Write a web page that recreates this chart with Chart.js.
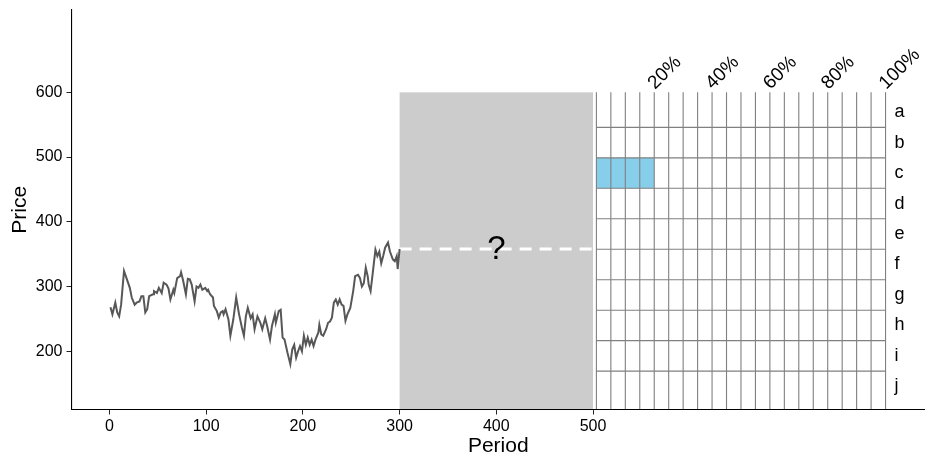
<!DOCTYPE html>
<html>
<head>
<meta charset="utf-8">
<script src="https://cdn.jsdelivr.net/npm/chart.js@4.4.1/dist/chart.umd.min.js"></script>
<style>
  html, body { margin: 0; padding: 0; background: #fff; }
  #c { display: block; }
</style>
</head>
<body>
<canvas id="c" width="925" height="463" style="width:925px;height:463px"></canvas>
<script>
// ---------- data ----------
const periods = [1,3,6,8,10,12,15,18,21,23,26,28,31,33,35,37,39,41,45,46,49,51,54,56,59,61,63,66,67,70,73,74,76,79,81,83,85,88,90,92,94,96,99,101,102,104,107,108,111,113,115,117,118,120,123,125,128,131,134,137,139,141,143,146,148,150,153,156,158,161,163,166,168,171,172,175,177,179,181,184,187,189,191,193,195,197,199,201,203,205,207,209,211,213,216,217,219,221,224,226,228,230,232,234,236,238,240,242,244,246,249,252,254,257,259,261,263,265,267,268,270,272,273,275,277,279,281,283,285,288,290,293,295,297,298,300];
const prices  = [268,257,275,260,254,272,324,311,298,283,272,275,277,285,285,260,265,285,288,293,290,298,290,306,303,297,280,295,290,313,316,322,310,288,312,311,303,277,300,298,303,295,298,293,295,288,283,270,262,252,260,262,257,265,249,224,249,283,257,236,224,254,267,251,257,234,254,244,234,251,239,218,239,257,244,262,264,221,218,198,180,203,210,190,200,208,200,224,210,221,210,218,208,218,229,241,226,224,234,244,246,252,275,280,272,280,272,270,247,257,267,293,316,318,313,300,305,329,316,303,293,318,331,357,347,354,336,347,360,368,354,342,339,347,327,358];
const xTicks = [0,100,200,300,400,500];
const yTicks = [200,300,400,500,600];
const forecastStart = 300;
const forecastEnd = 500;
const forecastTop = 600;
const lastPrice = 358;
const rowLabels = ['a','b','c','d','e','f','g','h','i','j'];
const pctLabels = ['20%','40%','60%','80%','100%'];
const pctValues = [20,40,60,80,100];
const filledRow = 'c';
const filledPercent = 20;

// ---------- layout constants (data units) ----------
const GRID_LEFT = 503.5, GRID_RIGHT = 802.5, N_COLS = 20;
const ROW_TOP = 592.98, ROW_H = 47.08;
const FONT = "'Liberation Sans', Arial, Helvetica, sans-serif";

const overlay = {
  id: 'overlay',
  beforeDatasetsDraw(chart) {
    const {ctx, chartArea, scales: {x, y}} = chart;
    ctx.save();
    // grey forecast box
    const bx0 = x.getPixelForValue(forecastStart), bx1 = x.getPixelForValue(forecastEnd);
    const by0 = y.getPixelForValue(forecastTop);
    ctx.fillStyle = '#cccccc';
    ctx.fillRect(bx0, by0, bx1 - bx0, chartArea.bottom - by0);

    const colW = (GRID_RIGHT - GRID_LEFT) / N_COLS;
    // filled cells
    const ri = rowLabels.indexOf(filledRow);
    const nFill = Math.round(filledPercent / 100 * N_COLS);
    const fx0 = x.getPixelForValue(GRID_LEFT), fx1 = x.getPixelForValue(GRID_LEFT + nFill * colW);
    const fy0 = y.getPixelForValue(ROW_TOP - ri * ROW_H), fy1 = y.getPixelForValue(ROW_TOP - (ri + 1) * ROW_H);
    ctx.fillStyle = '#87ceeb';
    ctx.fillRect(fx0, fy0, fx1 - fx0, fy1 - fy0);

    // grid lines
    ctx.strokeStyle = '#808080';
    ctx.lineWidth = 1.1;
    ctx.beginPath();
    for (let k = 0; k <= N_COLS; k++) {
      const px = x.getPixelForValue(GRID_LEFT + k * colW);
      ctx.moveTo(px, y.getPixelForValue(forecastTop));
      ctx.lineTo(px, chartArea.bottom);
    }
    const gl = x.getPixelForValue(GRID_LEFT), gr = x.getPixelForValue(GRID_RIGHT);
    for (let k = 1; k < rowLabels.length; k++) {
      const py = y.getPixelForValue(ROW_TOP - k * ROW_H);
      ctx.moveTo(gl, py);
      ctx.lineTo(gr, py);
    }
    ctx.stroke();
    ctx.restore();
  },
  afterDatasetsDraw(chart) {
    const {ctx, scales: {x, y}} = chart;
    ctx.save();
    ctx.fillStyle = '#000';
    // question mark
    ctx.font = '33px ' + FONT;
    ctx.textAlign = 'center';
    ctx.textBaseline = 'middle';
    ctx.fillText('?', x.getPixelForValue((forecastStart + forecastEnd) / 2), y.getPixelForValue(lastPrice) + 1);

    // row labels
    ctx.font = '18px ' + FONT;
    ctx.textAlign = 'left';
    const lx = x.getPixelForValue(GRID_RIGHT) + 9;
    rowLabels.forEach((r, i) => {
      ctx.fillText(r, lx, y.getPixelForValue(ROW_TOP - (i + 0.5) * ROW_H));
    });

    // percent labels
    const colW = (GRID_RIGHT - GRID_LEFT) / N_COLS;
    ctx.font = '19px ' + FONT;
    pctLabels.forEach((t, i) => {
      const px = x.getPixelForValue(GRID_LEFT + pctValues[i] / 100 * N_COLS * colW) - 3;
      const py = y.getPixelForValue(forecastTop) - 6;
      ctx.save();
      ctx.translate(px, py);
      ctx.rotate(-Math.PI / 4);
      ctx.textAlign = 'left';
      ctx.textBaseline = 'middle';
      ctx.fillText(t, 0, 0);
      ctx.restore();
    });
    ctx.restore();
  }
};

new Chart(document.getElementById('c'), {
  type: 'line',
  data: {
    datasets: [
      {
        data: periods.map((p, i) => ({x: p, y: prices[i]})),
        borderColor: '#575757',
        borderWidth: 2,
        pointRadius: 0,
        tension: 0
      },
      {
        data: [{x: forecastStart, y: lastPrice}, {x: forecastEnd, y: lastPrice}],
        borderColor: '#ffffff',
        borderWidth: 3,
        borderDash: [12, 8],
        pointRadius: 0
      }
    ]
  },
  options: {
    responsive: false,
    animation: false,
    devicePixelRatio: 1,
    layout: {padding: {top: 10, right: 0, left: 0, bottom: 0}},
    plugins: {legend: {display: false}, tooltip: {enabled: false}},
    scales: {
      x: {
        type: 'linear',
        min: -39.3,
        max: 843.3,
        afterBuildTicks: s => { s.ticks = xTicks.map(v => ({value: v})); },
        afterFit: s => { s.height = 53.5; s.paddingLeft = 0; s.paddingRight = 0; },
        grid: {drawOnChartArea: false, drawTicks: true, tickLength: 5, color: '#222', lineWidth: 1},
        border: {color: '#000', width: 1.1, z: 1},
        ticks: {color: '#000', padding: 2, font: {family: FONT, size: 16}, maxRotation: 0, autoSkip: false},
        title: {display: true, text: 'Period', color: '#000', font: {family: FONT, size: 21}, padding: {top: 0, bottom: 4}}
      },
      y: {
        type: 'linear',
        min: 110,
        max: 727.2,
        afterBuildTicks: s => { s.ticks = yTicks.map(v => ({value: v})); },
        afterFit: s => { s.width = 71.5; s.paddingTop = 0; s.paddingBottom = 0; },
        grid: {drawOnChartArea: false, drawTicks: true, tickLength: 5, color: '#222', lineWidth: 1},
        border: {color: '#000', width: 1.1, z: 1},
        ticks: {color: '#000', padding: 4, font: {family: FONT, size: 16}},
        title: {display: true, text: 'Price', color: '#000', font: {family: FONT, size: 21}, padding: {top: 8, bottom: 0}}
      }
    }
  },
  plugins: [overlay]
});
</script>
</body>
</html>
